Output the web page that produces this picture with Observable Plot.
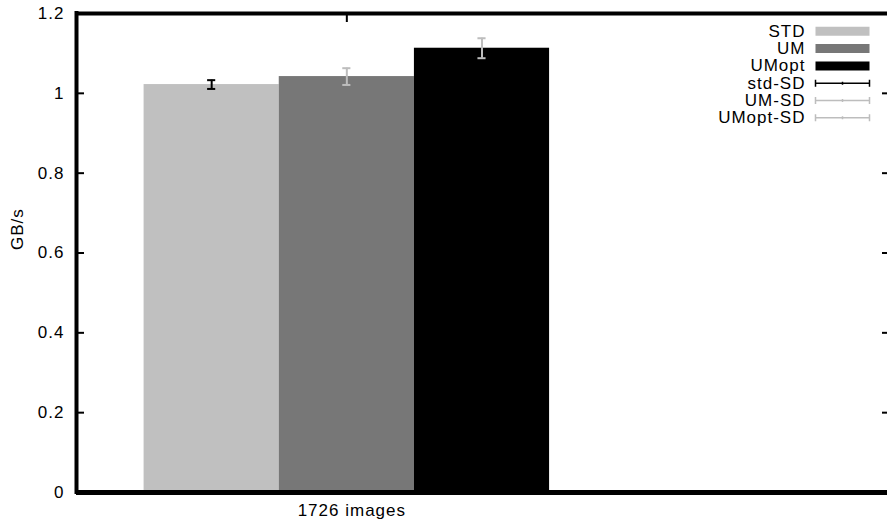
<!DOCTYPE html>
<html>
<head>
<meta charset="utf-8">
<script src="https://cdn.jsdelivr.net/npm/d3@7"></script>
<script src="https://cdn.jsdelivr.net/npm/@observablehq/plot@0.6"></script>
<style>
  html, body { margin: 0; padding: 0; background: #fff; }
  #chart svg text { font-size: 17px; letter-spacing: 1px; }
  #chart svg g[aria-label="legend"] text { letter-spacing: 0px; }
</style>
</head>
<body>
<div id="chart"></div>
<script>
// ---- data ----
const categories = ["STD", "UM", "UMopt"];
const values = [1.022, 1.042, 1.113];
const sds = [0.011, 0.021, 0.025];
const groupLabels = ["1726 images"];
const yTicks = [0, 0.2, 0.4, 0.6, 0.8, 1, 1.2];
const legendLabels = ["STD", "UM", "UMopt", "std-SD", "UM-SD", "UMopt-SD"];

// ---- styles ----
const barColors = ["#c0c0c0", "#777777", "#000000"];
const errColors = ["#000000", "#bdbdbd", "#bdbdbd"];
const legendColors = ["#c0c0c0", "#777777", "#000000", "#000000", "#bdbdbd", "#bdbdbd"];
const barWidth = 0.25;
const errCap = 0.0075;

const table = categories.map((c, i) => ({
  cat: c, v: values[i], sd: sds[i], pos: (i - 1) * barWidth,
  color: barColors[i], ecolor: errColors[i]
}));

const swatchShape = {
  draw(context, l) { context.moveTo(0, 0); context.lineTo(0, -l); }
};
const errShape = {
  draw(context, l) {
    context.moveTo(0, 0); context.lineTo(0, -l);
    context.moveTo(-3.5, 0); context.lineTo(3.5, 0);
    context.moveTo(-3.5, -l); context.lineTo(3.5, -l);
    context.moveTo(-1.5, -l / 2); context.lineTo(1.5, -l / 2);
  }
};

const legendMarks = [];
legendLabels.forEach((lab, i) => {
  const dy = 17.8 + i * 17.3;
  legendMarks.push(Plot.text([lab], {
    text: d => d, frameAnchor: "top-right", dx: -82, dy, textAnchor: "end", lineAnchor: "middle",
    fill: "#000", fontSize: 17, ariaLabel: "legend"
  }));
  const isSD = i >= 3;
  legendMarks.push(Plot.vector([0], {
    frameAnchor: "top-right", dx: -72, dy, length: 54, rotate: 90, anchor: "start",
    shape: isSD ? errShape : swatchShape,
    stroke: legendColors[i], strokeWidth: isSD ? 1.5 : 9, strokeLinecap: "butt"
  }));
});

const chart = Plot.plot({
  width: 887,
  height: 523,
  marginLeft: 76,
  marginRight: 0,
  marginTop: 13,
  marginBottom: 31,
  style: { fontFamily: "'Liberation Sans', Arial, Helvetica, sans-serif", fontSize: "17px", background: "#fff", color: "#000" },
  x: { domain: [-0.5, 1.0], axis: null },
  y: { domain: [0, 1.2], axis: null },
  marks: [
    Plot.axisY({ anchor: "left", ticks: yTicks, tickFormat: d => String(d), tickSize: -8, tickPadding: 20, strokeWidth: 2, label: null, fontSize: 17 }),
    Plot.axisY({ anchor: "right", ticks: yTicks, tickFormat: () => "", tickSize: -6, strokeWidth: 2, label: null }),
    Plot.axisX({ anchor: "top", ticks: [0], tickFormat: () => "", tickSize: -8, strokeWidth: 2, label: null }),
    Plot.axisX({ anchor: "bottom", ticks: [0], tickFormat: () => groupLabels[0], tickSize: 0, tickPadding: 11, dx: 5, label: null, fontSize: 17 }),
    Plot.rectY(table, { x1: d => d.pos - barWidth / 2, x2: d => d.pos + barWidth / 2, y1: 0, y2: "v", fill: "color" }),
    Plot.ruleX(table, { x: "pos", y1: d => d.v - d.sd, y2: d => d.v + d.sd, stroke: "ecolor", strokeWidth: 2 }),
    Plot.ruleY(table, { y: d => d.v - d.sd, x1: d => d.pos - errCap, x2: d => d.pos + errCap, stroke: "ecolor", strokeWidth: 2 }),
    Plot.ruleY(table, { y: d => d.v + d.sd, x1: d => d.pos - errCap, x2: d => d.pos + errCap, stroke: "ecolor", strokeWidth: 2 }),
    Plot.ruleY([0], { stroke: "#000", strokeWidth: 5 }),
    Plot.ruleY([1.2], { stroke: "#000", strokeWidth: 4 }),
    Plot.ruleX([-0.5], { stroke: "#000", strokeWidth: 4, strokeLinecap: "square" }),
    Plot.text(["GB/s"], { text: d => d, frameAnchor: "left", dx: -59, dy: -3, rotate: -90, fontSize: 17 }),
    ...legendMarks
  ]
});
document.getElementById("chart").appendChild(chart);
</script>
</body>
</html>
